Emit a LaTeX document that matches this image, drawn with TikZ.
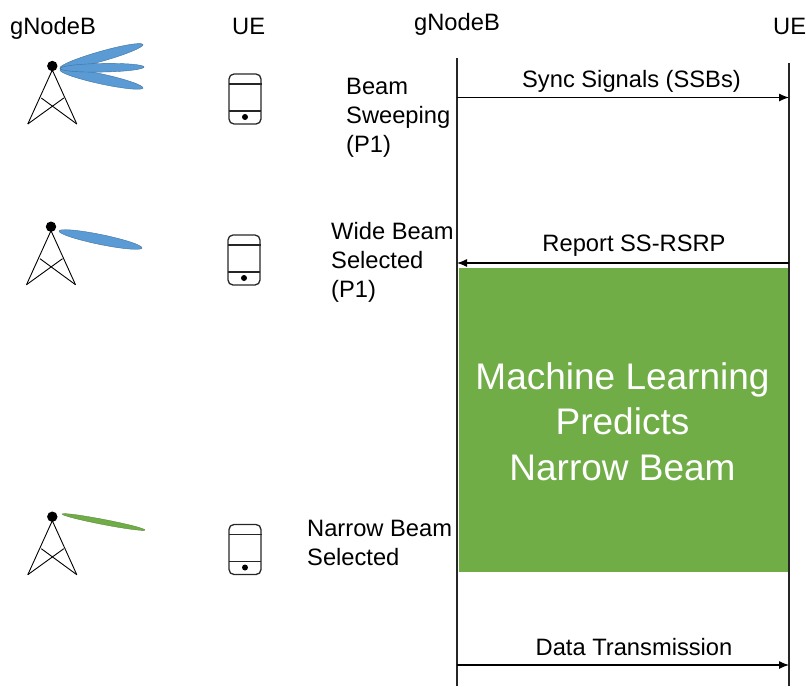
\documentclass[tikz,border=0pt]{standalone}
\usepackage{fontspec}
\setmainfont{Liberation Sans}
\usetikzlibrary{arrows.meta}
\definecolor{beamblue}{HTML}{5B9BD5}
\definecolor{beamedge}{HTML}{41719C}
\definecolor{mlgreen}{HTML}{70AD47}
\definecolor{greenedge}{HTML}{507E32}
\tikzset{
  x=1pt,y=-1pt,
  lbl/.style={inner sep=0pt,align=left,font=\fontsize{23.7}{29}\selectfont,text=black},
  wire/.style={line width=0.9pt,draw=black},
  msg/.style={line width=1.2pt,draw=black,-{Latex[length=10pt,width=8pt]}},
  lifeline/.style={line width=1.1pt,draw=black!85},
  bluebeam/.style={fill=beamblue,draw=beamedge,line width=0.4pt},
  greenbeam/.style={fill=mlgreen,draw=greenedge,line width=0.3pt},
  phoneline/.style={line width=1.3pt,draw=black!85}
}
\newcommand{\towerat}[3]{%
  \begin{scope}[shift={(#1,#2)}]
    \fill (0,0) circle[radius=5.2] node[coordinate] (#3) {};
    \draw[wire,line join=miter] (-24.5,58) -- (0,4) -- (24.5,58);
    \draw[wire] (-11,32) -- (24.5,58) (11.5,32) -- (-24.5,58);
  \end{scope}}
\newcommand{\phoneat}[3]{%
  \begin{scope}[shift={(#1,#2)}]
    \draw[phoneline,rounded corners=5] (-16,-25) rectangle (16,25);
    \draw[phoneline] (-16,-15) -- (16.5,-15) (-16,12) -- (16,12);
    \fill (0,18) circle[radius=3] node[coordinate] (#3) {};
  \end{scope}}
% elliptical beam between two tips: style, x1,y1,x2,y2, half width
\newcommand{\beam}[6]{%
  \pgfmathsetmacro{\bcx}{(#2+#4)/2}%
  \pgfmathsetmacro{\bcy}{(#3+#5)/2}%
  \pgfmathsetmacro{\bhl}{veclen(#4-#2,#5-#3)/2}%
  \pgfmathsetmacro{\bang}{atan2(-(#5-#3),#4-#2)}%
  \path[#1,rotate around={\bang:(\bcx,\bcy)}] (\bcx,\bcy) ellipse[x radius=\bhl, y radius=#6];}
\begin{document}
\begin{tikzpicture}
\useasboundingbox (0,0) rectangle (806,686);
\node[lbl,anchor=base west] (t1) at (10,34) {gNodeB};
\node[lbl,anchor=base west] (t2) at (232,34) {UE};
\node[lbl,anchor=base west] (t3) at (414,30) {gNodeB};
\node[lbl,anchor=base west] (t4) at (773,34) {UE};

\towerat{52.3}{66}{towerA}
\towerat{51}{226.7}{towerB}
\towerat{52.3}{516.7}{towerC}
\phoneat{245}{99}{phoneA}
\phoneat{244}{260}{phoneB}
\phoneat{245}{549.5}{phoneC}

\beam{bluebeam}{60}{68}{143}{44.5}{5}
\beam{bluebeam}{60}{70}{143}{88}{5}
\beam{bluebeam}{60}{68.5}{144}{67}{4.3}
\beam{bluebeam}{59}{231}{142}{248}{5}
\beam{greenbeam}{62}{514}{145}{530}{2.6}

\node[lbl,anchor=north west] (l1) at (346,77.7) {Beam\\Sweeping\\(P1)};
\node[lbl,anchor=north west] (l2) at (331,222) {Wide Beam\\Selected\\(P1)};
\node[lbl,anchor=north west] (l3) at (307,519.5) {Narrow Beam\\Selected};

\coordinate (gt) at (457,58);
\coordinate (gb) at (457,686);
\coordinate (ut) at (789,63);
\coordinate (ub) at (789,686);
\draw[lifeline] (gt) -- (gb);
\draw[lifeline] (ut) -- (ub);

\coordinate (a1) at (457,97.5); \coordinate (b1) at (789,97.5);
\coordinate (a2) at (457,263); \coordinate (b2) at (789,263);
\coordinate (a3) at (457,665); \coordinate (b3) at (789,665);
\draw[msg] (a1) -- (b1);
\draw[msg] (b2) -- (a2);
\draw[msg] (a3) -- (b3);
\node[lbl,anchor=base] (m1) at (631.5,87.5) {Sync Signals (SSBs)};
\node[lbl,anchor=base] (m2) at (634,251) {Report SS-RSRP};
\node[lbl,anchor=base] (m3) at (634,655.5) {Data Transmission};

\node[fill=mlgreen,inner sep=0pt,minimum width=329pt,minimum height=304pt,anchor=north west] (ml) at (459,268) {};
\node[inner sep=0pt,text=white,align=center,font=\fontsize{37}{45.5}\selectfont] (mltext) at (622.5,421.7) {Machine Learning\\Predicts\\Narrow Beam};
\end{tikzpicture}
\end{document}
